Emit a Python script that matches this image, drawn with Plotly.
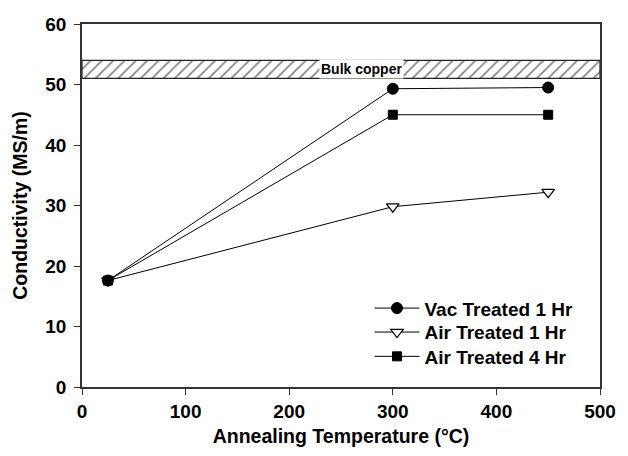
import plotly.graph_objects as go

# Annealing temperatures (°C) and measured conductivity (MS/m)
temps = [25, 300, 450]
vac_1hr = [17.6, 49.3, 49.5]
air_1hr = [17.6, 29.8, 32.2]
air_4hr = [17.6, 45.0, 45.0]

# Bulk copper reference band (MS/m)
bulk_low = 51.0
bulk_high = 54.0
bulk_label = "Bulk copper"

x_ticks = [0, 100, 200, 300, 400, 500]
y_ticks = [0, 10, 20, 30, 40, 50, 60]

FONT = "Liberation Sans, Arial, Helvetica, sans-serif"

fig = go.Figure()

# hatched band for bulk copper
fig.add_trace(go.Scatter(
    x=[0, 500, 500, 0, 0],
    y=[bulk_low, bulk_low, bulk_high, bulk_high, bulk_low],
    mode="lines",
    fill="toself",
    fillcolor="white",
    fillpattern=dict(shape="/", size=8, solidity=0.2, fgcolor="black", bgcolor="white"),
    line=dict(color="#222222", width=1.2),
    showlegend=False,
    hoverinfo="skip",
))

# one legend box per series so the rows can sit closer together
series = [
    ("Vac Treated 1 Hr", vac_1hr, "legend", dict(symbol="circle", size=11, color="black",
                                                 line=dict(color="black", width=1))),
    ("Air Treated 1 Hr", air_1hr, "legend2", dict(symbol="triangle-down", size=11, color="white",
                                                  line=dict(color="black", width=1.2))),
    ("Air Treated 4 Hr", air_4hr, "legend3", dict(symbol="square", size=9, color="black",
                                                  line=dict(color="black", width=1))),
]
for name, vals, leg, marker in series:
    fig.add_trace(go.Scatter(
        x=temps, y=vals, name=name, mode="lines+markers",
        line=dict(color="black", width=1),
        marker=marker, legend=leg,
    ))

fig.add_annotation(
    x=270, y=(bulk_low + bulk_high) / 2, text=bulk_label, showarrow=False,
    font=dict(family=FONT, size=14, color="black", weight="bold"),
    bgcolor="white", borderpad=1,
)

axis_common = dict(
    showgrid=False, zeroline=False, showline=True, mirror=True,
    linecolor="#333333", linewidth=1.5,
    ticks="outside", ticklen=6, tickwidth=1.2, tickcolor="#333333",
    tickfont=dict(family=FONT, size=19, color="black", weight="bold"),
)

fig.update_xaxes(
    range=[0, 500], tickvals=x_ticks,
    title=dict(text="Annealing Temperature (°C)", standoff=9,
               font=dict(family=FONT, size=19.5, color="black", weight="bold")),
    **axis_common,
)
fig.update_yaxes(
    range=[0, 60], tickvals=y_ticks, ticklabelstandoff=4,
    title=dict(text="Conductivity (MS/m)", standoff=12,
               font=dict(family=FONT, size=19.5, color="black", weight="bold")),
    **axis_common,
)

legend_style = dict(
    x=0.555, xanchor="left", yanchor="middle",
    font=dict(family=FONT, size=19, color="black", weight="bold"),
    bgcolor="rgba(0,0,0,0)", itemwidth=45,
)

fig.update_layout(
    width=628, height=456,
    margin=dict(l=82, r=18, t=24, b=64),
    paper_bgcolor="white", plot_bgcolor="white",
    font=dict(family=FONT, color="black"),
    legend=dict(y=0.217, **legend_style),
    legend2=dict(y=0.151, **legend_style),
    legend3=dict(y=0.084, **legend_style),
)

fig.write_html("out.html")
